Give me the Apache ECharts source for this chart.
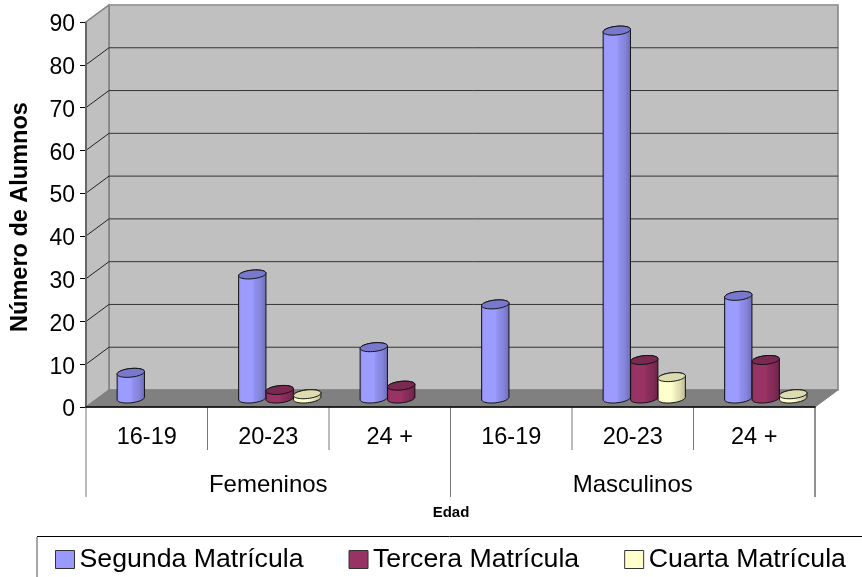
<!DOCTYPE html>
<html>
<head>
<meta charset="utf-8">
<style>html,body{margin:0;padding:0;background:#fff;overflow:hidden}#c{width:862px;height:577px}</style>
<script src="https://cdn.jsdelivr.net/npm/echarts@6/dist/echarts.min.js"></script>
</head>
<body>
<div id="c"></div>
<script>
const categories = ['16-19','20-23','24 +','16-19','20-23','24 +'];
const groups = ['Femeninos','Masculinos'];
const groupSize = 3;
const segunda = [6,29,12,22,86,24];
const tercera = [0,2,3,0,9,9];
const cuarta  = [0,1,0,0,5,1];
const yTicks = {min:0,max:90,interval:10};
const FONT = '"Liberation Sans", Arial, sans-serif';

const chart = echarts.init(document.getElementById('c'),null,{renderer:'canvas'});
const DX = 23, DY = -17;

function ell(cx,cy,rx,ry,from,to,n){
  const rot = -6*Math.PI/180, pts=[];
  for(let i=0;i<=n;i++){
    const t = from+(to-from)*i/n;
    const x = rx*Math.cos(t), y = ry*Math.sin(t);
    pts.push([cx+x*Math.cos(rot)-y*Math.sin(rot), cy+x*Math.sin(rot)+y*Math.cos(rot)]);
  }
  return pts;
}
function cylinder(slot, pal){
  return function(params, api){
    const val = api.value(1);
    if(!val) return null;
    const band = api.size([1,0])[0];
    const w = band*0.226, rx = w/2, ry = 4.3;
    const base = api.coord([api.value(0),0]);
    const top = api.coord([api.value(0),val]);
    const cx = base[0]+DX/2+slot*w;
    const by = base[1]+DY/2, ty = top[1]+DY/2;
    const topEdge = ell(cx,ty,rx,ry,Math.PI,2*Math.PI,24);
    const body = topEdge.concat(ell(cx,by,rx,ry,0,Math.PI,24));
    return {type:'group',children:[
      {type:'polygon',shape:{points:body},style:{
        fill:new echarts.graphic.LinearGradient(0,0,1,0,[
          {offset:0,color:pal[0]},{offset:.12,color:pal[1]},{offset:.5,color:pal[1]},
          {offset:.58,color:pal[0]},{offset:.78,color:pal[2]},{offset:1,color:pal[3]}]),
        stroke:'#111',lineWidth:1}},
      {type:'polygon',shape:{points:ell(cx,ty,rx,ry,0,2*Math.PI,48)},style:{fill:pal[4],stroke:'#111',lineWidth:1}}
    ]};
  };
}
function frame(params, api){
  if(params.dataIndex!==0) return null;
  const n = categories.length;
  const band = api.size([1,0])[0];
  const p = (c,v)=>{const q=api.coord([0,v]);return [q[0]+(c-0.5)*band,q[1]];};
  const kids = [];
  const o0 = p(0,0), o1 = p(n,0), t0 = p(0,yTicks.max), t1 = p(n,yTicks.max);
  const shift = q=>[q[0]+DX,q[1]+DY];
  const poly=(pts,fill,stroke,lw)=>kids.push({type:'polygon',shape:{points:pts},style:{fill,stroke,lineWidth:lw}});
  const line=(a,b,stroke,lw)=>kids.push({type:'line',shape:{x1:a[0],y1:a[1],x2:b[0],y2:b[1]},style:{stroke,lineWidth:lw}});
  poly([shift(o0),shift(o1),shift(t1),shift(t0)],'#C0C0C0','#808080',1.5);
  poly([o0,shift(o0),shift(t0),t0],'#C0C0C0','#808080',1.5);
  poly([o0,o1,shift(o1),shift(o0)],'#808080','#808080',1);
  for(let v=yTicks.min+yTicks.interval;v<yTicks.max;v+=yTicks.interval){
    const a=p(0,v);
    line(a,shift(a),'#222',1);
    line(shift(a),shift(p(n,v)),'#333',1);
  }
  line(t0,o0,'#666',2);
  line(shift(t0),shift(t1),'#A0A0A0',1.5);
  // multi-level category separators
  const h1=43, h2=90;
  for(let i=0;i<=n;i++){
    const a=p(i,0), isGroup=i%groupSize===0;
    line(a,[a[0],a[1]+(isGroup?h2:h1)],i===n?'#222':'#777',1);
  }
  groups.forEach((g,i)=>{
    const a=p(i*groupSize,0), b=p((i+1)*groupSize,0);
    kids.push({type:'text',style:{text:g,x:(a[0]+b[0])/2,y:a[1]+78,align:'center',verticalAlign:'middle',
      font:'24px '+FONT,fill:'#000'}});
  });
  return {type:'group',children:kids};
}
const idx = categories.map((_,i)=>i);
const pair = arr => arr.map((v,i)=>[idx[i],v]);
const pals = {
  s:['#9090EE','#9C9CFF','#8585DC','#6C6CB4','#7878CC'],
  t:['#8E2F5E','#993366','#822B57','#6A2347','#7A2950'],
  c:['#F2F2C2','#FFFFCC','#DDDDB0','#B8B892','#DCDCB0']
};
const series = [
  {type:'custom',name:'__frame',silent:true,z:1,renderItem:frame,data:pair(segunda),encode:{x:0,y:1},clip:false,tooltip:{show:false}},
  {type:'custom',name:'Segunda Matrícula',z:3,renderItem:cylinder(-1,pals.s),data:pair(segunda),encode:{x:0,y:1},clip:false,itemStyle:{color:'#9999FF'}},
  {type:'custom',name:'Tercera Matrícula',z:4,renderItem:cylinder(0,pals.t),data:pair(tercera),encode:{x:0,y:1},clip:false,itemStyle:{color:'#993366'}},
  {type:'custom',name:'Cuarta Matrícula',z:5,renderItem:cylinder(1,pals.c),data:pair(cuarta),encode:{x:0,y:1},clip:false,itemStyle:{color:'#FFFFCC'}}
];
chart.setOption({
  animation:false,
  backgroundColor:'#fff',
  grid:{left:86,right:47,top:22,bottom:170,containLabel:false},
  xAxis:{type:'category',data:categories,boundaryGap:true,
    axisLine:{show:true,lineStyle:{color:'#000',width:1.5}},axisTick:{show:false},
    splitLine:{show:false},z:6,
    axisLabel:{interval:0,margin:19,fontFamily:FONT,fontSize:23.5,color:'#000'}},
  yAxis:{type:'value',min:yTicks.min,max:yTicks.max,interval:yTicks.interval,
    axisLine:{show:false},axisTick:{show:true,length:6,lineStyle:{color:'#000',width:1}},
    splitLine:{show:false},
    axisLabel:{margin:11,fontFamily:FONT,fontSize:23,color:'#000',verticalAlign:'top',lineHeight:6}},
  legend:{left:50,top:541,itemWidth:19,itemHeight:18,itemGap:45,
    icon:'rect',selectedMode:false,
    data:['Segunda Matrícula','Tercera Matrícula','Cuarta Matrícula'],
    itemStyle:{borderColor:'#333',borderWidth:1},
    textStyle:{fontFamily:FONT,fontSize:26.7,color:'#000'}},
  graphic:[
    {type:'text',rotation:Math.PI/2,x:21,y:217,style:{text:'Número de Alumnos',align:'center',verticalAlign:'middle',
      font:'bold 23.5px '+FONT,fill:'#000'}},
    {type:'text',x:451,y:513,style:{text:'Edad',align:'center',verticalAlign:'middle',font:'bold 15px '+FONT,fill:'#000'}},
    {type:'polyline',shape:{points:[[37,536.5],[862,536.5]]},style:{fill:'none',stroke:'#000',lineWidth:1}},
    {type:'line',shape:{x1:37,y1:537,x2:37,y2:577},style:{stroke:'#888',lineWidth:1.5}}
  ],
  series
});
</script>
</body>
</html>
